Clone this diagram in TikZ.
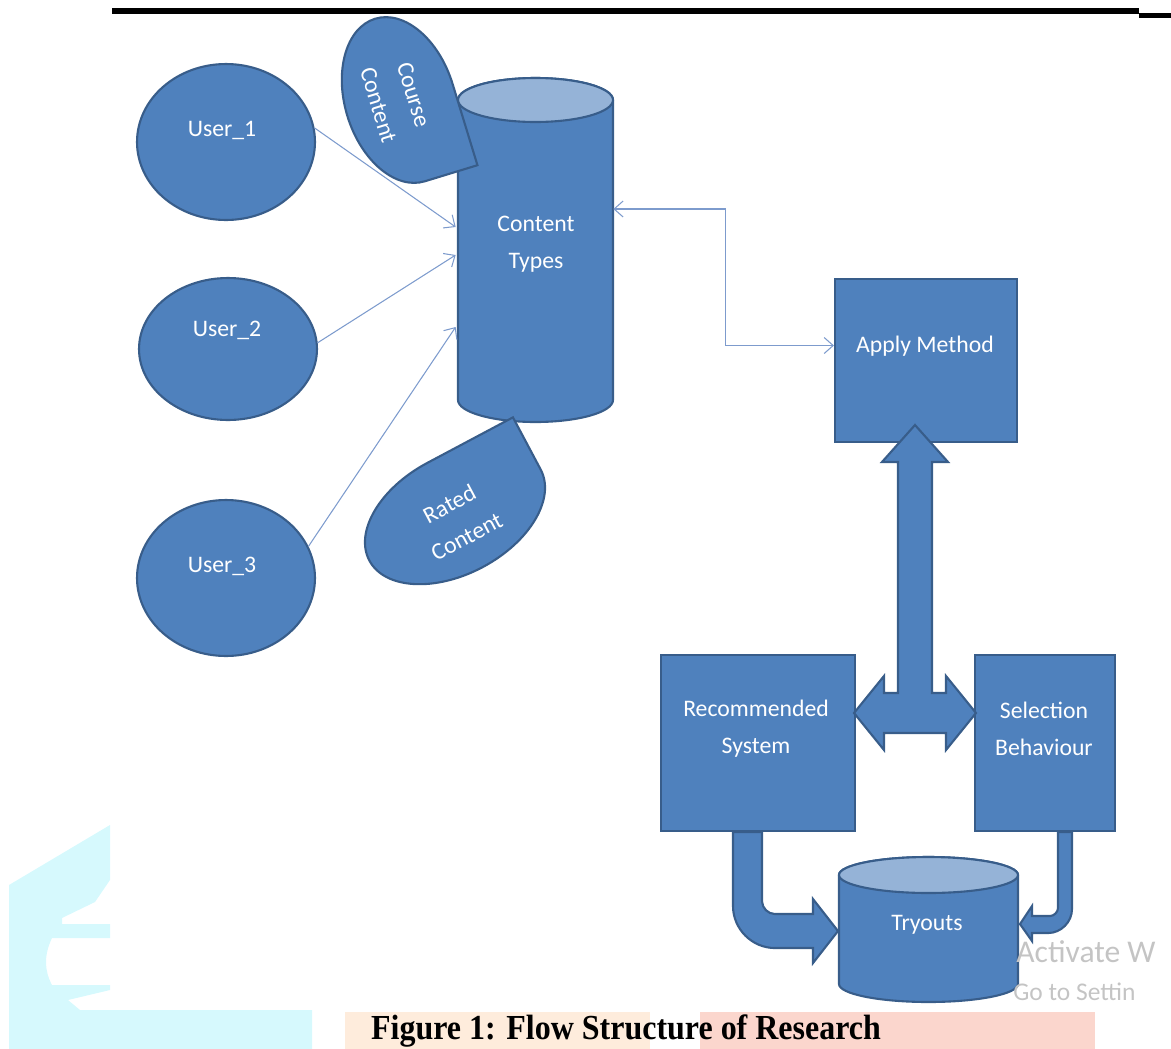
\documentclass[tikz,border=0pt]{standalone}
\usepackage{fontspec}
\usepackage{graphicx}
\newfontfamily\shapefont{Carlito}
\newfontfamily\capfont{Liberation Serif}
\usetikzlibrary{shapes.geometric, arrows.meta, calc}

\definecolor{boxfill}{RGB}{79,129,189}
\definecolor{boxline}{RGB}{56,93,138}
\definecolor{cyltop}{RGB}{149,179,215}
\definecolor{linkline}{RGB}{125,155,205}
\definecolor{wmcyan}{RGB}{214,249,253}
\definecolor{wmorange}{RGB}{254,236,220}
\definecolor{wmpink}{RGB}{251,214,205}
\definecolor{wmgray}{RGB}{196,196,196}

\newcommand{\diagramfont}{\shapefont\fontsize{13.5}{21}\selectfont}

% Zylinder: Mitte, halbe Breite, halbe Hoehe, Deckelradius (in Pixeln)
\newcommand{\storeshape}[4]{%
    \begin{scope}[shift={#1}, y=0.02cm]
        \draw[storebody] (-#2,#3-#4) -- (-#2,-#3+#4)
            arc[start angle=180, end angle=360, x radius=#2, y radius=#4]
            -- (#2,#3-#4) arc[start angle=0, end angle=180, x radius=#2, y radius=#4] -- cycle;
        \draw[storetop] (0,#3-#4) ellipse[x radius=#2, y radius=#4];
    \end{scope}}

\begin{document}
\begin{tikzpicture}[
    x=0.02cm, y=-0.02cm,
    % Formen
    userball/.style={ellipse, draw=boxline, fill=boxfill, line width=1.2pt, minimum width=3.56cm, minimum height=3.12cm},
    boxshape/.style={rectangle, draw=boxline, fill=boxfill, line width=1.2pt},
    storenode/.style={rectangle, inner sep=0pt},
    storebody/.style={draw=boxline, fill=boxfill, line width=1.2pt},
    storetop/.style={draw=boxline, fill=cyltop, line width=1.2pt},
    droplet/.style={draw=boxline, fill=boxfill, line width=1.2pt},
    blockarrow/.style={draw=boxline, fill=boxfill, line width=1.2pt, line join=miter},
    % Texte und Linien
    shapetext/.style={text=white, font=\diagramfont, align=center, inner sep=0pt},
    thinlink/.style={draw=linkline, line width=0.6pt, -{Straight Barb[length=1.8mm,width=3.2mm]}},
    wmtext/.style={text=wmgray, anchor=base west, inner sep=0pt}
]
    \useasboundingbox (0,0) rectangle (1171,1049);

    % ==========================================
    % Hintergrund (Wasserzeichen, Kopfzeile)
    % ==========================================
    \fill[wmcyan] (9,1049) -- (9,885) -- (110,825) -- (110,880) -- (95,902) -- (62,918)
        -- (62,924) -- (110,924) -- (110,938) -- (52,938) .. controls (44,955) and (44,970) .. (52,985)
        -- (110,985) -- (110,990) -- (68,1000) -- (80,1010) -- (312,1010) -- (312,1049) -- cycle;
    \fill[wmorange] (345,1012) rectangle (650,1049);
    \fill[wmpink] (700,1012) rectangle (1095,1049);
    \fill[black] (112,8) rectangle (1139,14);
    \fill[black] (1139,13) rectangle (1171,18);

    % ==========================================
    % NUTZER und INHALTE
    % ==========================================
    \node[userball] (user1) at (226,142) {};
    \node[userball, minimum height=2.84cm] (user2) at (228,349) {};
    \node[userball] (user3) at (226,578) {};
    \node[shapetext] (user1-txt) at (222,130) {User\_1};
    \node[shapetext] (user2-txt) at (227,330) {User\_2};
    \node[shapetext] (user3-txt) at (222,566) {User\_3};

    \node[storenode, minimum width=3.1cm, minimum height=6.88cm] (ctypes) at (535.5,250) {};
    \storeshape{(ctypes.center)}{77.5}{172}{22}
    \node[shapetext] (ctypes-txt) at (536,244) {Content\\Types};

    \draw[thinlink] (user1.9) -- ($(ctypes.west)+(-2,-23)$);
    \draw[thinlink] (user2.4) -- ($(ctypes.west)+(-2,5)$);
    \draw[thinlink] (user3.21) -- ($(ctypes.west)+(-2,77)$);

    % Tropfen "Course Content"
    \begin{scope}[shift={(400,100)}, rotate=-73, y=0.02cm]
        \draw[droplet] (85,55) -- (85,0) arc[start angle=0, end angle=-270, x radius=85, y radius=55] -- cycle;
    \end{scope}
    \node[shapetext, rotate=-73] (course) at (396,100) {Course\\Content};

    % Tropfen "Rated Content"
    \begin{scope}[shift={(455,515)}, rotate=28, y=0.02cm]
        \draw[droplet] (97,59) -- (97,0) arc[start angle=0, end angle=-270, x radius=97, y radius=59] -- cycle;
    \end{scope}
    \node[shapetext, rotate=28] (rated) at (458,520) {Rated\\Content};

    % ==========================================
    % METHODE
    % ==========================================
    \node[boxshape, minimum width=3.64cm, minimum height=3.26cm] (apply) at (926,360.5) {};
    \node[shapetext] (apply-txt) at (925,346) {Apply Method};

    \draw[thinlink, {Straight Barb[length=1.8mm,width=3.2mm]}-{Straight Barb[length=1.8mm,width=3.2mm]}]
        ($(ctypes.east)+(0,-41)$) -- ++(112,0) |- ($(apply.west)+(0,-15)$);

    % ==========================================
    % SYSTEM, VERHALTEN, TRYOUTS
    % ==========================================
    \node[boxshape, minimum width=3.88cm, minimum height=3.52cm] (recsys) at (758,743) {};
    \node[boxshape, minimum width=2.8cm, minimum height=3.52cm] (select) at (1045,743) {};
    \node[shapetext] (recsys-txt) at (756,729) {Recommended\\System};
    \node[shapetext] (select-txt) at (1044,729) {Selection\\Behaviour};

    % gebogene Blockpfeile nach unten
    \begin{scope}[shift={(recsys.south)}]
        \draw[blockarrow] (-25,0) -- (-25,74) .. controls (-25,97) and (-6,116) .. (17,116) -- (55,116)
            -- (55,131) -- (80,99) -- (55,67) -- (55,82) -- (17,82) .. controls (10,82) and (4,76) .. (4,69)
            -- (4,0) -- cycle;
    \end{scope}
    \begin{scope}[shift={(select.south)}]
        \draw[blockarrow] (27,0) -- (27,77) .. controls (27,90) and (16,101) .. (3,101) -- (-13,101)
            -- (-13,109) -- (-25,92) -- (-13,74) -- (-13,84) -- (5,84) .. controls (9,84) and (13,80) .. (13,76)
            -- (13,0) -- cycle;
    \end{scope}

    \node[storenode, minimum width=3.58cm, minimum height=2.9cm] (tryouts) at (928.5,929.5) {};
    \storeshape{(tryouts.center)}{89.5}{72.5}{18}
    \node[shapetext] (tryouts-txt) at (927,925) {Tryouts};

    % Blockpfeil links-rechts-oben
    \coordinate (hub) at ($(recsys.east)!0.5!(select.west)+(0,-30)$);
    \begin{scope}[shift={(hub)}]
        \draw[blockarrow] (0,-288) -- (33,-251) -- (17,-251) -- (17,-20) -- (31,-20) -- (31,-37)
            -- (61,0) -- (31,37) -- (31,20) -- (-31,20) -- (-31,37) -- (-61,0) -- (-31,-37)
            -- (-31,-20) -- (-17,-20) -- (-17,-251) -- (-33,-251) -- cycle;
    \end{scope}

    % ==========================================
    % BILDUNTERSCHRIFT
    % ==========================================
    \node[font=\capfont\bfseries\fontsize{20}{24}\selectfont, inner sep=0pt] (caption) at (626,1031)
        {\scalebox{0.91}[1]{Figure 1: Flow Structure of Research}};
    \node[wmtext, font=\shapefont\fontsize{18}{20}\selectfont] (activate) at (1016,962) {Activate W};
    \node[wmtext, font=\shapefont\fontsize{14.5}{16}\selectfont] (gosettings) at (1013,1000) {Go to Settin};

\end{tikzpicture}
\end{document}
